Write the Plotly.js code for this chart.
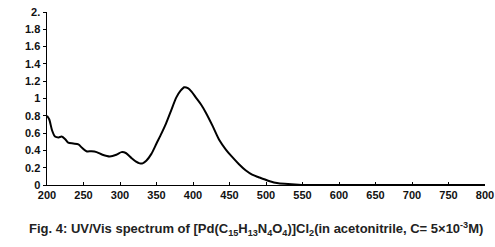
<!DOCTYPE html>
<html><head><meta charset="utf-8">
<script src="https://cdn.plot.ly/plotly-3.0.1.min.js"></script>
<style>html,body{margin:0;padding:0;background:#fff}</style>
</head><body><div id="chart" style="width:495px;height:247px"></div>
<script>
const wavelength = [200, 203, 207, 211, 216, 220, 225, 229, 236, 243, 248, 254, 261, 268, 276, 286, 295, 302, 308, 316, 322, 327, 331, 336, 343, 350, 357, 363, 370, 377, 383, 388, 393, 398, 404, 411, 418, 427, 436, 445, 453, 463, 472, 481, 490, 503, 517, 535, 554, 580, 620, 680, 740, 800];
const absorbance = [0.80, 0.76, 0.63, 0.56, 0.55, 0.56, 0.53, 0.49, 0.48, 0.47, 0.43, 0.39, 0.39, 0.38, 0.35, 0.33, 0.35, 0.38, 0.37, 0.31, 0.27, 0.25, 0.25, 0.28, 0.36, 0.48, 0.60, 0.71, 0.86, 1.01, 1.09, 1.13, 1.12, 1.08, 1.01, 0.93, 0.83, 0.68, 0.52, 0.41, 0.33, 0.24, 0.17, 0.12, 0.09, 0.05, 0.02, 0.01, 0.0, 0.0, 0.0, 0.0, 0.0, 0.0];
const xTicks = [200, 250, 300, 350, 400, 450, 500, 550, 600, 650, 700, 750, 800];
const yTicks = [0, 0.2, 0.4, 0.6, 0.8, 1, 1.2, 1.4, 1.6, 1.8, 2];
const yTickText = ['0', '0.2', '0.4', '0.6', '0.8', '1', '1.2', '1.4', '1.6', '1.8', '2.'];
const caption = 'Fig. 4: UV/Vis spectrum of [Pd(C<sub>15</sub>H<sub>13</sub>N<sub>4</sub>O<sub>4</sub>)]Cl<sub>2</sub>(in acetonitrile, C= 5×10<sup>-3</sup>M)';

const tickFont = {family: 'Liberation Sans, Arial, sans-serif', size: 11, color: '#111', weight: 'bold'};
Plotly.newPlot('chart', [{
  x: wavelength, y: absorbance, type: 'scatter', mode: 'lines',
  line: {color: '#000', width: 2, shape: 'spline', smoothing: 0.7}
}], {
  width: 495, height: 247,
  margin: {l: 47, r: 10, t: 12, b: 62},
  paper_bgcolor: '#fff', plot_bgcolor: '#fff',
  showlegend: false,
  xaxis: {range: [200, 800], tickvals: xTicks, ticktext: xTicks.map(String),
    showgrid: false, zeroline: false, showline: true, linecolor: '#000', linewidth: 1,
    ticks: 'inside', ticklen: 3, tickcolor: '#000', tickfont: tickFont},
  yaxis: {range: [0, 2], tickvals: yTicks, ticktext: yTickText,
    showgrid: false, zeroline: false, showline: true, linecolor: '#000', linewidth: 1.5,
    ticks: 'outside', ticklen: 3, tickcolor: '#000', tickfont: tickFont},
  annotations: [{text: caption, xref: 'paper', yref: 'paper', x: 0.5, y: 0, xshift: -10, yshift: -44,
    xanchor: 'center', yanchor: 'middle', showarrow: false,
    font: {family: 'Liberation Sans, Arial, sans-serif', size: 13, color: '#222', weight: 'bold'}}]
}, {staticPlot: true});
</script></body></html>
